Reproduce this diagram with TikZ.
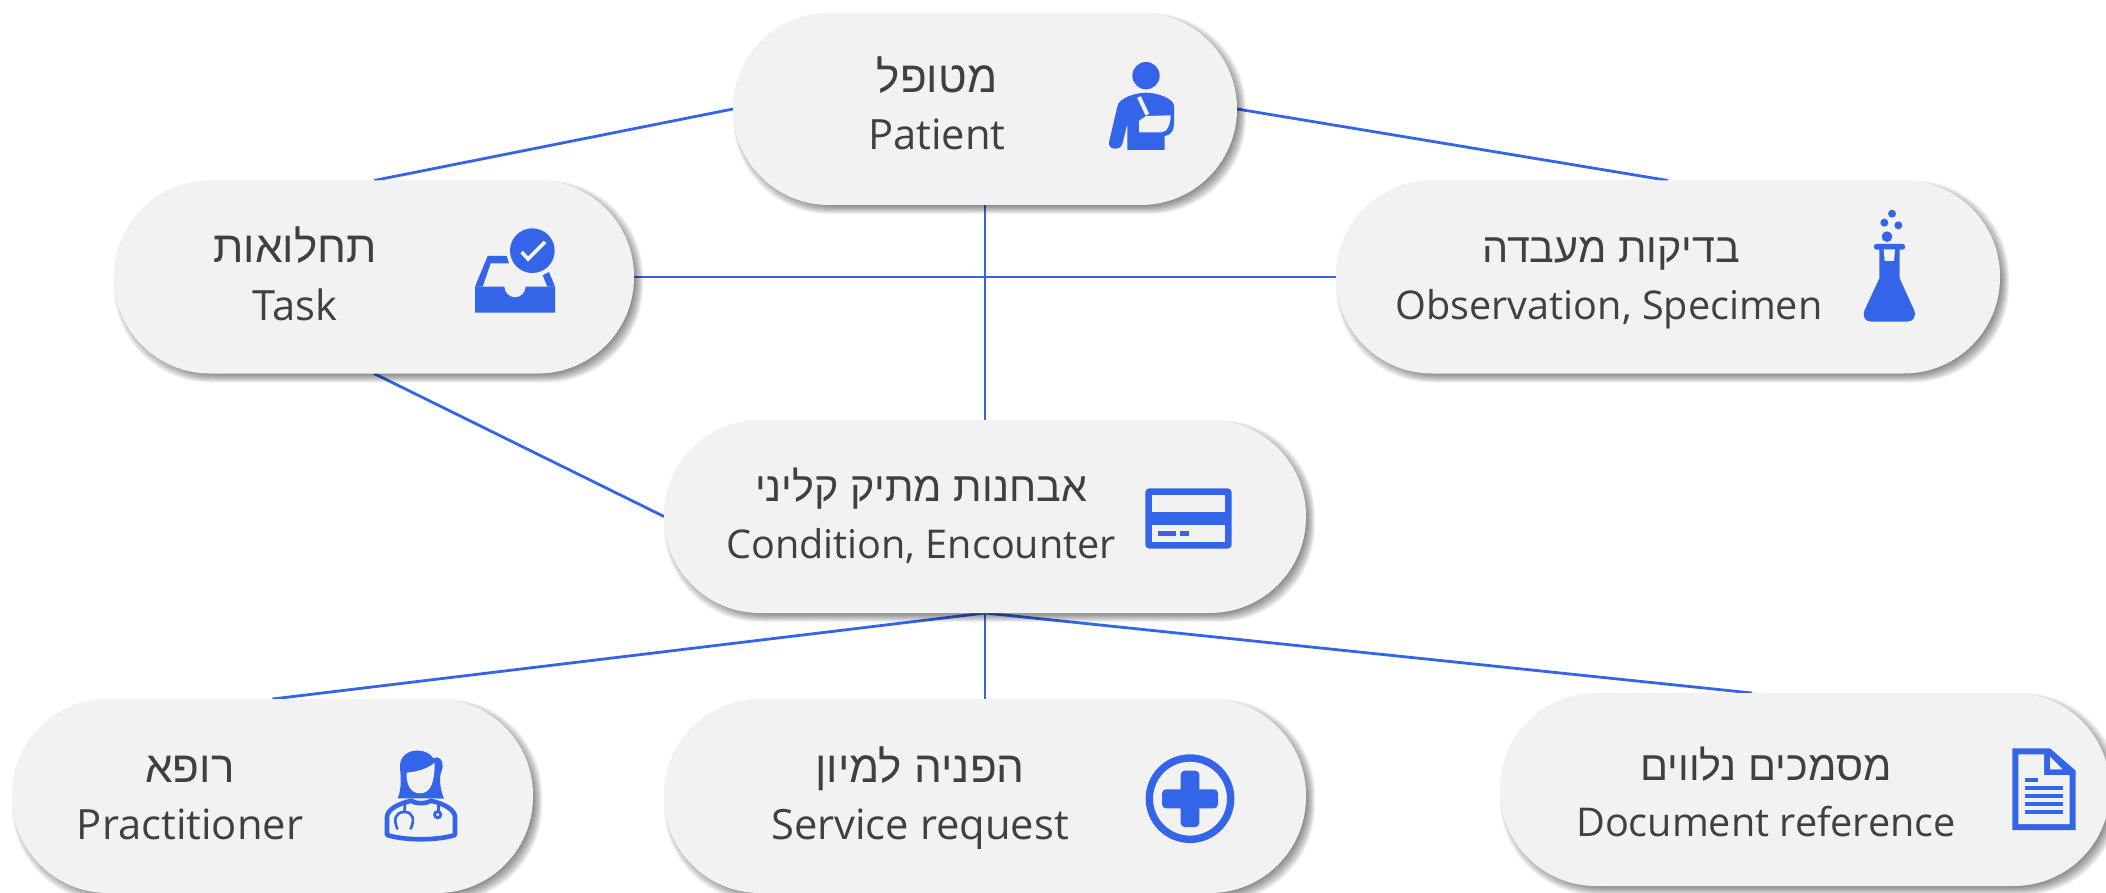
\documentclass[tikz,border=0pt]{standalone}
\usepackage{fontspec}
\setmainfont{Open Sans}
\newfontfamily\hebfont[Script=Hebrew]{Liberation Sans}
\TeXXeTstate=1
\definecolor{iconblue}{HTML}{3464E8}
\definecolor{pillfill}{HTML}{F2F2F2}
\definecolor{txt}{HTML}{404040}
\pgfdeclarelayer{connlayer}
\pgfdeclarelayer{shadlayer}
\pgfsetlayers{connlayer,shadlayer,main}
\tikzset{
  pill/.style={rectangle,fill=pillfill,rounded corners=96pt,inner sep=0pt,outer sep=0pt},
  conn/.style={draw=iconblue,line width=2.8pt},
  heb/.style={anchor=base,text=txt,inner sep=0pt,font=\hebfont\fontsize{41.3}{50}\selectfont},
  hebbig/.style={anchor=base,text=txt,inner sep=0pt,font=\hebfont\fontsize{44}{50}\selectfont},
  lat/.style={anchor=base,text=txt,inner sep=0pt,font=\fontsize{39.6}{46}\selectfont},
  latbig/.style={anchor=base,text=txt,inner sep=0pt,font=\fontsize{41.7}{46}\selectfont},
  ic/.style={fill=iconblue,draw=none},
  ih/.style={fill=pillfill,draw=none}
}
\newcommand{\pillitem}[5]{%
  % name, cx, cy, w, h
  \begin{pgfonlayer}{shadlayer}
    \foreach \g in {4.5,3.5,2.5,1.5,0.5,-0.5,-1.5,-2.5,-3.5,-4.5}{
      \fill[black,fill opacity=0.06,rounded corners=96pt]
        ({#2-#4/2+4.5-\g},{#3-#5/2+4.5-\g}) rectangle ({#2+#4/2+4.5+\g},{#3+#5/2+4.5+\g});
    }
  \end{pgfonlayer}
  \node[pill,minimum width=#4pt,minimum height=#5pt] (#1) at (#2,#3) {};
}
\begin{document}
\begin{tikzpicture}[x=1pt,y=-1pt]
\useasboundingbox (0,0) rectangle (2106,893);

\pillitem{patient}{985}{109}{504}{192}
\pillitem{task}{374}{277}{520}{193}
\pillitem{obs}{1668}{277}{664}{193}
\pillitem{cond}{985}{516.5}{642}{193}
\pillitem{prac}{272.5}{796}{521}{194}
\pillitem{serv}{985}{796}{642}{194}
\pillitem{doc}{1805}{789.5}{610}{193}
\coordinate (docTop) at (1752,693);

\begin{pgfonlayer}{connlayer}
  \fill[white] (0,0) rectangle (2106,893);
  \draw[conn] (patient.west) -- (task.north);
  \draw[conn] (patient.east) -- (obs.north);
  \draw[conn] (patient.south) -- (cond.north);
  \draw[conn] (task.east) -- (obs.west);
  \draw[conn] (task.south) -- (cond.west);
  \draw[conn] (cond.south) -- (prac.north);
  \draw[conn] (cond.south) -- (serv.north);
  \draw[conn] (cond.south) -- (docTop);
\end{pgfonlayer}

% texts
\node[hebbig] (h1) at (937,93) {\beginR מטופל\endR};
\node[latbig] (l1) at (937,150) {Patient};
\node[hebbig] (h2) at (295,263) {\beginR תחלואות\endR};
\node[latbig] (l2) at (295,320) {Task};
\node[heb] (h3) at (1611,263) {\beginR בדיקות מעבדה\endR};
\node[lat] (l3) at (1609,319) {Observation, Specimen};
\node[heb] (h4) at (921,501) {\beginR אבחנות מתיק קליני\endR};
\node[lat] (l4) at (921,558) {Condition, Encounter};
\node[hebbig] (h5) at (190,782) {\beginR רופא\endR};
\node[latbig] (l5) at (190,839) {Practitioner};
\node[hebbig] (h6) at (920,782) {\beginR הפניה למיון\endR};
\node[latbig] (l6) at (920,839) {Service request};
\node[heb] (h7) at (1766,780) {\beginR מסמכים נלווים\endR};
\node[lat] (l7) at (1766,836) {Document reference};

% patient icon
\begin{scope}[shift={(1040,30)},x=0.33333pt,y=-0.33333pt]
  \fill[ic] (318,137) circle[radius=41];
  \fill[ic] (262,360) -- (374,360) -- (374,318) .. controls (394,316) and (402,300) .. (402,280) -- (402,228)
    .. controls (402,205) and (350,188) .. (318,188) .. controls (286,188) and (234,205) .. (232,230)
    -- (208,332) .. controls (204,348) and (212,356) .. (226,356) .. controls (238,356) and (245,350) .. (248,338)
    -- (262,282) -- cycle;
  \fill[ih] (297,272) -- (318,258) -- (392,256) .. controls (392,280) and (382,307) .. (365,307) -- (297,307) -- cycle;
  \draw[pillfill,line width=4pt] (297,201) -- (322,254);
\end{scope}
% task icon
\begin{scope}[shift={(450,210)},x=0.33333pt,y=-0.33333pt]
  \fill[ic] (75,230) -- (163,230) arc[start angle=180,end angle=0,radius=32] -- (315,230) -- (315,308) -- (75,308) -- cycle;
  \fill[ic] (75,230) -- (113,138) -- (170,138) -- (177,160) -- (122,160) -- (98,230) -- cycle;
  \fill[ic] (278,196) -- (297,186) -- (315,230) -- (292,230) -- cycle;
  \fill[ic] (247,122) circle[radius=67];
  \draw[pillfill,line width=3.6pt] (215,126) -- (234,147) -- (285,96);
\end{scope}
% flask icon
\begin{scope}[shift={(1830,195)},x=0.33333pt,y=-0.33333pt]
  \fill[ic] (186,56) circle[radius=12];
  \fill[ic] (163,83) circle[radius=12];
  \fill[ic] (205,91) circle[radius=12];
  \fill[ic] (171,125) circle[radius=16];
  \fill[ic,rounded corners=2.3pt] (132,147) rectangle (225,164);
  \fill[ic] (148,160) -- (209,160) -- (209,250) -- (252,345) .. controls (260,365) and (250,380) .. (230,380)
    -- (125,380) .. controls (105,380) and (96,365) .. (104,345) -- (148,250) -- cycle;
  \fill[ih] (161,163) -- (195,163) -- (192,198) -- (164,198) -- cycle;
\end{scope}
% card icon
\begin{scope}[shift={(1120,470)},x=0.33333pt,y=-0.33333pt]
  \fill[ic,rounded corners=4pt] (76,55) rectangle (335,236);
  \fill[ih] (96,75) rectangle (315,126);
  \fill[ih] (96,165) rectangle (315,216);
  \fill[ic] (115,184) rectangle (167,197);
  \fill[ic] (180,184) rectangle (206,197);
\end{scope}
% practitioner icon
\begin{scope}[shift={(360,730)},x=0.33333pt,y=-0.33333pt]
  \draw[iconblue,line width=4.6pt,line join=round,line cap=round]
    (81,315) -- (81,262) .. controls (81,240) and (110,222) .. (155,212)
    .. controls (165,222) and (200,222) .. (212,212) .. controls (255,222) and (285,240) .. (285,262)
    -- (285,315) .. controls (230,332) and (135,332) .. (81,315) -- cycle;
  \fill[ic] (113,205) .. controls (126,175) and (122,140) .. (120,112) .. controls (118,75) and (150,60) .. (175,62)
    .. controls (195,62) and (212,72) .. (220,85) .. controls (235,75) and (250,90) .. (248,110)
    .. controls (246,125) and (240,130) .. (240,145) .. controls (240,170) and (245,190) .. (252,206)
    -- (215,205) -- (152,205) -- cycle;
  \fill[ih] (140,128) .. controls (175,125) and (205,115) .. (224,98)
    .. controls (224,150) and (215,190) .. (180,190) .. controls (150,190) and (138,160) .. (140,128) -- cycle;
  \draw[iconblue,line width=2.6pt,line cap=round] (112,296) .. controls (100,270) and (105,246) .. (133,246)
    .. controls (160,246) and (165,270) .. (152,296);
  \draw[iconblue,line width=2.6pt] (133,246) -- (135,222);
  \draw[iconblue,line width=2.6pt] (235,218) -- (235,245);
  \fill[ic] (233,254) circle[radius=14];
  \fill[ih] (233,254) circle[radius=5];
\end{scope}
% plus icon
\begin{scope}[shift={(1120,740)},x=0.33333pt,y=-0.33333pt]
  \draw[iconblue,line width=7.4pt] (210,176) circle[radius=122];
  \fill[ic,rounded corners=4pt] (182,92) rectangle (238,261);
  \fill[ic,rounded corners=4pt] (126,148) rectangle (294,205);
\end{scope}
% document icon
\begin{scope}[shift={(1980,730)},x=0.33333pt,y=-0.33333pt]
  \fill[ic] (97,55) -- (210,55) -- (287,122) -- (287,300) -- (97,300) -- cycle;
  \fill[ih] (115,73) -- (192,73) -- (192,135) -- (269,135) -- (269,282) -- (115,282) -- cycle;
  \fill[ih] (210,80) -- (248,118) -- (210,118) -- cycle;
  \fill[ic] (134,143) rectangle (174,155);
  \fill[ic] (134,168) rectangle (250,180);
  \fill[ic] (134,192) rectangle (250,204);
  \fill[ic] (134,217) rectangle (250,229);
  \fill[ic] (134,241) rectangle (250,253);
\end{scope}
\end{tikzpicture}
\end{document}
